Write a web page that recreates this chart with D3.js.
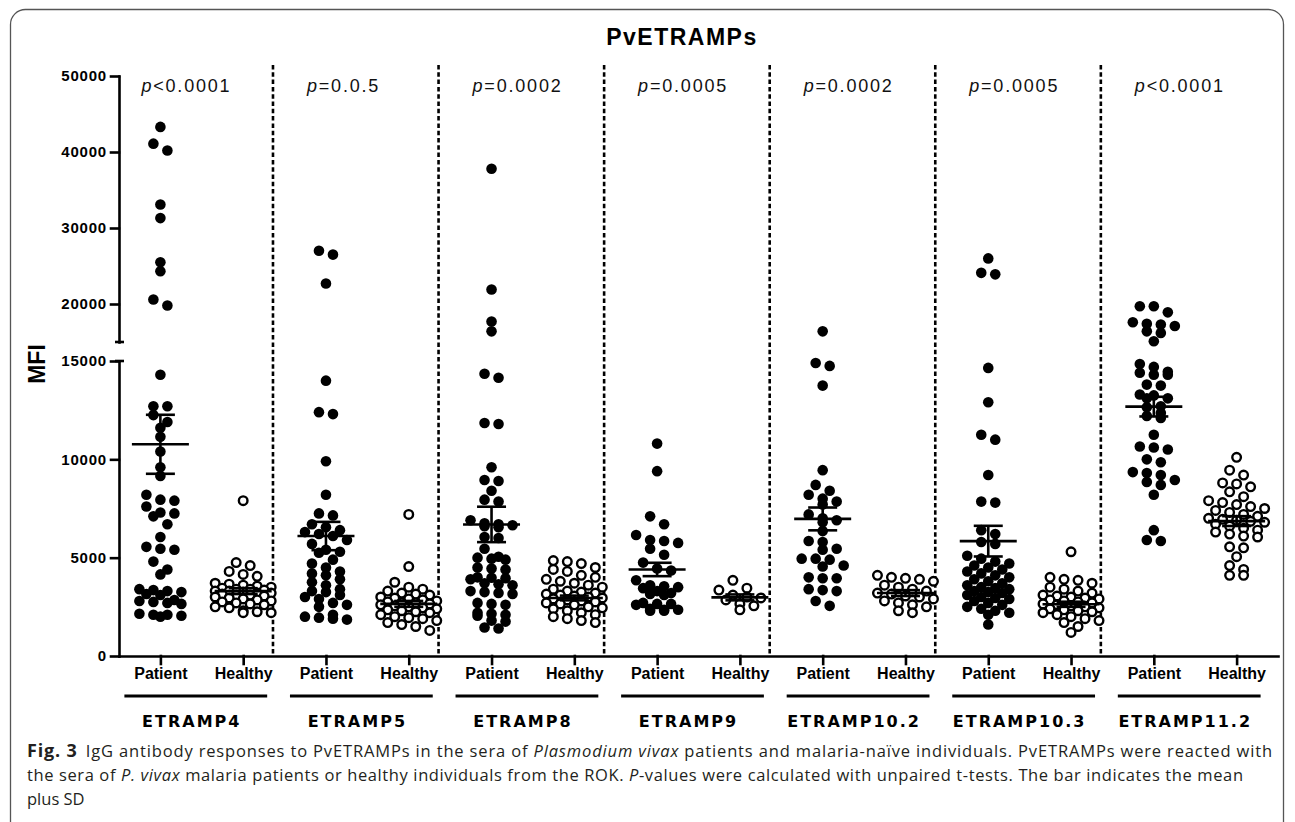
<!DOCTYPE html>
<html>
<head>
<meta charset="utf-8">
<script src="https://cdn.jsdelivr.net/npm/d3@7"></script>
<style>
  body { margin: 0; background: #fff; }
  svg { display: block; }
  .axis path, .axis line { stroke: #000; stroke-width: 2.6px; stroke-linecap: square; }
  .yax text { font: bold 15px "Liberation Sans", Arial, sans-serif; letter-spacing: 0.8px; fill: #000; }
  .xax text { font: bold 16px "Liberation Sans", Arial, sans-serif; fill: #000; }
</style>
</head>
<body>
<svg width="1295" height="822"></svg>
<script>
// antigens and groups
var antigens = ["ETRAMP4", "ETRAMP5", "ETRAMP8", "ETRAMP9", "ETRAMP10.2", "ETRAMP10.3", "ETRAMP11.2"];
var groups = ["Patient", "Healthy"];
var pLabels = ["<0.0001", "=0.0.5", "=0.0002", "=0.0005", "=0.0002", "=0.0005", "<0.0001"];

// MFI values (one array per antigen)
var patientVals = [
  [43300, 41100, 40200, 33100, 31300, 25500, 24300, 20600, 19800,
   14300, 12700, 12700, 12250, 11900, 11600, 11150, 10400, 9600, 9150,
   8200, 7950, 7900, 7600, 7300, 7250, 7100, 6700, 6050, 5550, 5450, 5400, 4800, 4400, 4150,
   3400, 3350, 3300, 3250, 3150, 3100, 2850, 2800, 2750, 2700, 2650, 2150, 2100, 2100, 2050, 2000],
  [27000, 26500, 22700, 14000, 12400, 12300, 9900, 8200, 7250, 7150, 6700, 6550, 6400, 6300, 6200,
   6100, 5900, 5700, 5400, 5300, 5250, 4900, 4700, 4500, 4300, 4200, 4100, 3900, 3750, 3600, 3400,
   3300, 3250, 3100, 3000, 2900, 2700, 2600, 2500, 2100, 2000, 1950, 1900, 1850],
  [37800, 21900, 17700, 16400, 14350, 14150, 11850, 11800, 9600, 8950, 8900, 8400, 7950, 7850, 6900,
   6750, 6700, 6650, 6600, 6550, 6050, 6000, 5450, 5050, 5000, 4950, 4900, 4500, 4450, 4400, 4000,
   3980, 3950, 3900, 3700, 3650, 3600, 3300, 3250, 3200, 3150, 2700, 2650, 2600, 2200, 2150, 2100,
   2050, 1800, 1750, 1450, 1400],
  [10800, 9400, 7100, 6700, 6150, 5900, 5850, 5750, 5450, 5150, 4750, 4450, 4350, 3850, 3600, 3550,
   3500, 3450, 3300, 3200, 3150, 3100, 2700, 2650, 2650, 2600, 2400, 2350, 2350, 2300, 2300],
  [16400, 14900, 14750, 13750, 9450, 8700, 8400, 8200, 8000, 7850, 7700, 7200, 7000, 6900, 6800,
   6350, 5850, 5800, 5450, 5400, 4950, 4950, 4900, 4600, 4550, 4000, 3950, 3950, 3400, 3350, 3300,
   2800, 2550],
  [26000, 24100, 23900, 14650, 12900, 11250, 11000, 9200, 7850, 7800, 6400, 6200, 5800, 5700, 5100,
   4950, 4800, 4700, 4600, 4500, 4400, 4300, 4200, 4100, 4000, 3900, 3800, 3700, 3600, 3500, 3450,
   3400, 3300, 3250, 3200, 3100, 3000, 2950, 2900, 2800, 2700, 2600, 2500, 2400, 2300, 2200, 2100, 1600],
  [19700, 19700, 18900, 17600, 17400, 17300, 17100, 16400, 16200, 15100, 14850, 14700, 14450, 14400,
   14300, 14300, 13800, 13750, 13300, 13250, 13100, 13100, 12700, 12650, 12350, 12200, 12100, 11250,
   10650, 10600, 10500, 10000, 9850, 9350, 9300, 9200, 8950, 8850, 8700, 8200, 6400, 5900, 5850]
];
var healthyVals = [
  [7900, 4750, 4600, 4300, 4150, 4050, 3700, 3650, 3600, 3550, 3500, 3450, 3400, 3400, 3350, 3300,
   3300, 3250, 3200, 3200, 3150, 3100, 3100, 3050, 3000, 2950, 2900, 2850, 2800, 2750, 2700, 2650,
   2600, 2500, 2450, 2300, 2250, 2200, 2200],
  [7200, 4550, 3750, 3500, 3400, 3300, 3200, 3150, 3100, 3000, 2950, 2900, 2850, 2800, 2750, 2700,
   2700, 2650, 2600, 2550, 2500, 2450, 2400, 2350, 2300, 2250, 2200, 2100, 2000, 1950, 1900, 1800,
   1700, 1600, 1500, 1300],
  [4850, 4800, 4700, 4500, 4400, 4300, 4100, 4000, 3900, 3800, 3700, 3600, 3500, 3400, 3300, 3250,
   3200, 3150, 3100, 3050, 3000, 2950, 2900, 2850, 2800, 2750, 2700, 2650, 2600, 2500, 2450, 2400,
   2300, 2200, 2100, 2000, 1900, 1800, 1700],
  [3850, 3450, 3350, 3100, 3000, 2950, 2850, 2650, 2550, 2350],
  [4100, 4000, 3950, 3900, 3800, 3600, 3500, 3400, 3300, 3200, 3150, 3050, 3000, 2900, 2800, 2700,
   2600, 2500, 2300, 2200],
  [5300, 4000, 3900, 3850, 3700, 3500, 3400, 3300, 3200, 3100, 3050, 3000, 2950, 2900, 2850, 2800,
   2750, 2700, 2650, 2600, 2550, 2500, 2450, 2400, 2350, 2300, 2250, 2200, 2100, 2000, 1900, 1800,
   1700, 1500, 1200],
  [10100, 9450, 9200, 8800, 8750, 8600, 8350, 8100, 7900, 7800, 7700, 7600, 7500, 7400, 7300, 7200,
   7100, 7000, 6950, 6900, 6850, 6800, 6700, 6600, 6500, 6400, 6300, 6200, 6100, 6050, 5500, 5550,
   5050, 4600, 4400, 4100, 4100]
];
// mean and error bar (as drawn in the figure)
var patientMean = [10765, 6100, 6690, 4400, 6970, 5840, 12680];
var patientErr  = [1500, 720, 900, 340, 580, 780, 500];
var healthyMean = [3300, 2650, 2950, 2980, 3200, 2630, 6860];
var healthyErr  = [150, 150, 120, 150, 150, 130, 250];

var lowTicks = [0, 5000, 10000, 15000];
var highTicks = [20000, 30000, 40000, 50000];

var svg = d3.select("svg");
var left = 119, right = 1278, base = 656;

// frame
svg.append("rect")
  .attr("x", 10.5).attr("y", 9.5)
  .attr("width", 1273).attr("height", 840)
  .attr("rx", 15)
  .attr("fill", "none").attr("stroke", "#555").attr("stroke-width", 1.3);

var keys = [];
antigens.forEach(function(a) { groups.forEach(function(g) { keys.push(a + "|" + g); }); });

var x = d3.scalePoint().domain(keys).range([left, right]).padding(0.5);
var step = x.step();

var yLow = d3.scaleLinear().domain([0, 15000]).range([base, 361]);
var yHigh = d3.scaleLinear().domain([15000, 50000]).range([342, 76]);
function y(v) { return v > 15000 ? yHigh(v) : yLow(v); }

// title
svg.append("text")
  .attr("x", 682).attr("y", 45)
  .attr("text-anchor", "middle")
  .style("font", "bold 23px 'Liberation Sans', Arial, sans-serif")
  .style("letter-spacing", "1.5px")
  .text("PvETRAMPs");

// y axis, two segments
svg.append("g").attr("class", "axis yax")
  .attr("transform", "translate(" + left + ",0)")
  .call(d3.axisLeft(yLow).tickValues(lowTicks).tickSize(8).tickSizeOuter(0).tickPadding(4).tickFormat(d3.format("d")));
svg.append("g").attr("class", "axis yax")
  .attr("transform", "translate(" + left + ",0)")
  .call(d3.axisLeft(yHigh).tickValues(highTicks).tickSize(8).tickSizeOuter(0).tickPadding(4).tickFormat(d3.format("d")));
// the little caps at the break
[yHigh(15000), yLow(15000)].forEach(function(yy) {
  svg.append("line")
    .attr("x1", left - 4).attr("x2", left + 5)
    .attr("y1", yy).attr("y2", yy)
    .attr("stroke", "#000").attr("stroke-width", 2.6);
});

svg.append("text")
  .attr("transform", "translate(45," + 364 + ") rotate(-90)")
  .attr("text-anchor", "middle")
  .style("font", "bold 23px 'Liberation Sans', Arial, sans-serif")
  .text("MFI");

// x axis
svg.append("g").attr("class", "axis xax")
  .attr("transform", "translate(0," + base + ")")
  .call(d3.axisBottom(x).tickSize(8).tickSizeOuter(0).tickPadding(4)
    .tickFormat(function(d) { return d.split("|")[1]; }));

// dashed separators
for (var i = 0; i < antigens.length - 1; i++) {
  var xd = x(antigens[i] + "|Healthy") + step * 0.36;
  svg.append("line")
    .attr("x1", xd).attr("x2", xd)
    .attr("y1", 65).attr("y2", base)
    .attr("stroke", "#000").attr("stroke-width", 2.6)
    .attr("stroke-dasharray", "4.5,2.8");
}

// p values
antigens.forEach(function(a, i) {
  var t = svg.append("text")
    .attr("x", x(a + "|Patient") - 19).attr("y", 92)
    .style("font", "18px 'Liberation Sans', Arial, sans-serif")
    .style("letter-spacing", "1.8px")
    .attr("fill", "#111");
  t.append("tspan").style("font-style", "italic").text("p");
  t.append("tspan").text(pLabels[i]);
});

// column scatter: points in the same row are spread sideways,
// full rows alternate between maxN and maxN-1 so they interleave
function layout(vals, maxN) {
  var pts = vals.map(function(v) { return { v: v, y: y(v) }; })
    .sort(function(a, b) { return a.y - b.y; });
  var rows = [], k = 0;
  while (k < pts.length) {
    var prev = rows[rows.length - 1];
    var alt = prev && pts[k].y - prev.y0 < 11 ? !prev.alt : false;
    var cap = alt ? maxN - 1 : maxN;
    var row = { y0: pts[k].y, alt: alt, pts: [] };
    while (k < pts.length && row.pts.length < cap && pts[k].y - row.y0 <= 8) {
      row.pts.push(pts[k]); k++;
    }
    rows.push(row);
  }
  rows.forEach(function(r) {
    var n = r.pts.length;
    r.pts.forEach(function(p, j) { p.dx = (j - (n - 1) / 2) * 14; });
  });
  return pts;
}

var dots = svg.append("g");
var bars = svg.append("g").attr("stroke", "#000").attr("stroke-width", 2.6);

antigens.forEach(function(a, i) {
  var sets = [
    { key: a + "|Patient", vals: patientVals[i], mean: patientMean[i], err: patientErr[i], filled: true },
    { key: a + "|Healthy", vals: healthyVals[i], mean: healthyMean[i], err: healthyErr[i], filled: false }
  ];
  sets.forEach(function(s) {
    var cx = x(s.key);
    dots.selectAll(null)
      .data(layout(s.vals, s.filled ? 4 : 5))
      .enter().append("circle")
      .attr("cx", function(d) { return cx + d.dx; })
      .attr("cy", function(d) { return d.y; })
      .attr("r", s.filled ? 5.3 : 4.3)
      .attr("fill", s.filled ? "#000" : "#fff")
      .attr("stroke", "#000")
      .attr("stroke-width", s.filled ? 0 : 2.4);

    var ym = y(s.mean), yt = y(s.mean + s.err), yb = y(s.mean - s.err);
    bars.append("line").attr("x1", cx - 28.5).attr("x2", cx + 28.5).attr("y1", ym).attr("y2", ym);
    bars.append("line").attr("x1", cx).attr("x2", cx).attr("y1", yt).attr("y2", yb);
    bars.append("line").attr("x1", cx - 14.5).attr("x2", cx + 14.5).attr("y1", yt).attr("y2", yt);
    bars.append("line").attr("x1", cx - 14.5).attr("x2", cx + 14.5).attr("y1", yb).attr("y2", yb);
  });

  // group underline and name
  var xp = x(a + "|Patient"), xh = x(a + "|Healthy");
  svg.append("line")
    .attr("x1", xp - 36).attr("x2", xh + 24)
    .attr("y1", 696).attr("y2", 696)
    .attr("stroke", "#000").attr("stroke-width", 3);
  svg.append("text")
    .attr("x", (xp + xh) / 2 - 10).attr("y", 727)
    .attr("text-anchor", "middle")
    .style("font", "bold 16px 'DejaVu Sans', sans-serif")
    .style("letter-spacing", "2px")
    .text(a);
});

// caption
var capFont = "16.5px 'Open Sans', 'Noto Sans', sans-serif";
var c1 = svg.append("text").attr("x", 27).attr("y", 757)
  .attr("textLength", 1245).attr("lengthAdjust", "spacing")
  .style("font", capFont).attr("fill", "#231f20");
c1.append("tspan").style("font-weight", "bold").style("font-size", "18px").text("Fig. 3");
c1.append("tspan").attr("dx", 8).text("IgG antibody responses to PvETRAMPs in the sera of ");
c1.append("tspan").style("font-style", "italic").text("Plasmodium vivax");
c1.append("tspan").text(" patients and malaria-naïve individuals. PvETRAMPs were reacted with");

var c2 = svg.append("text").attr("x", 27).attr("y", 781)
  .attr("textLength", 1216).attr("lengthAdjust", "spacing")
  .style("font", capFont).attr("fill", "#231f20");
c2.append("tspan").text("the sera of ");
c2.append("tspan").style("font-style", "italic").text("P. vivax");
c2.append("tspan").text(" malaria patients or healthy individuals from the ROK. ");
c2.append("tspan").style("font-style", "italic").text("P");
c2.append("tspan").text("-values were calculated with unpaired t-tests. The bar indicates the mean");

svg.append("text").attr("x", 27).attr("y", 805)
  .style("font", capFont).attr("fill", "#231f20")
  .text("plus SD");
</script>
</body>
</html>
